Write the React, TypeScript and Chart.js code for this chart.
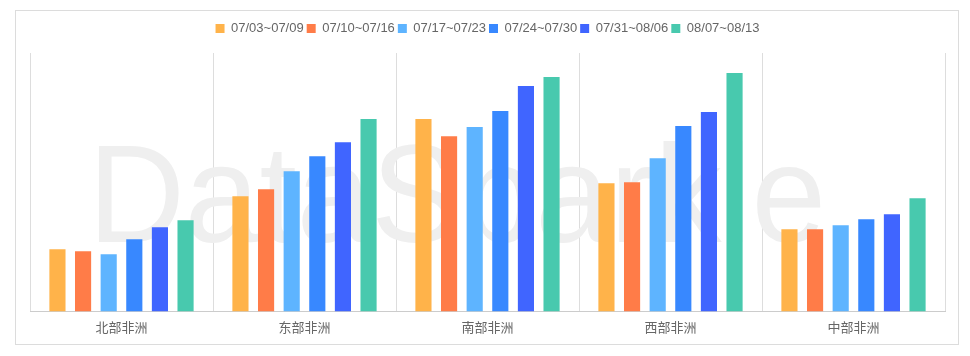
import React, { useEffect, useRef } from "react";
import { Chart, registerables } from "chart.js";

Chart.register(...registerables);

const categories = ["北部非洲", "东部非洲", "南部非洲", "西部非洲", "中部非洲"];
const seriesNames = ["07/03~07/09", "07/10~07/16", "07/17~07/23", "07/24~07/30", "07/31~08/06", "08/07~08/13"];
const colors = ["#FFB34A", "#FF7C48", "#5EB4FF", "#3888FF", "#4065FF", "#48C9AE"];

const week1 = [62, 115, 192, 128, 82];
const week2 = [60, 122, 175, 129, 82];
const week3 = [57, 140, 184, 153, 86];
const week4 = [72, 155, 200, 185, 92];
const week5 = [84, 169, 225, 199, 97];
const week6 = [91, 192, 234, 238, 113];
const seriesValues = [week1, week2, week3, week4, week5, week6];
const yMax = 258;

const watermark = {
  id: "watermark",
  beforeDatasetsDraw(chart: any) {
    const ctx = chart.ctx;
    ctx.save();
    ctx.fillStyle = "#efefef";
    ctx.font = "140px 'Liberation Sans', Arial, sans-serif";
    ctx.textBaseline = "alphabetic";
    ctx.textAlign = "left";
    ctx.fillText("DataSparkle", 72, 231, 738);
    ctx.restore();
  },
};

const legendGap = {
  id: "legendGap",
  beforeInit(chart: any) {
    const legend = chart.legend;
    if (!legend) return;
    const fit = legend.fit;
    legend.fit = function () {
      fit.call(this);
      this.height += 8;
    };
  },
};

export default function App() {
  const ref = useRef<HTMLCanvasElement | null>(null);
  useEffect(() => {
    if (!ref.current) return;
    const chart = new Chart(ref.current, {
      type: "bar",
      data: {
        labels: categories,
        datasets: seriesNames.map((name, i) => ({
          label: name,
          data: seriesValues[i],
          backgroundColor: colors[i],
          borderWidth: 0,
          categoryPercentage: 0.84,
          barPercentage: 0.63,
        })),
      },
      options: {
        animation: false,
        responsive: false,
        layout: { padding: { left: 14, right: 13, top: 8, bottom: 1 } },
        plugins: {
          legend: {
            position: "top",
            labels: {
              boxWidth: 9,
              boxHeight: 9,
              padding: 3,
              color: "#666",
              font: { size: 13, family: "'Liberation Sans', Arial, sans-serif" },
            },
          },
          tooltip: { enabled: false },
        },
        scales: {
          x: {
            grid: { offset: true, color: "#dddddd", drawTicks: false },
            border: { color: "#cccccc" },
            ticks: { padding: 8, color: "#666", font: { size: 13, family: "'Noto Sans CJK SC', sans-serif" } },
          },
          y: { display: false, min: 0, max: yMax },
        },
      },
      plugins: [watermark, legendGap],
    });
    return () => chart.destroy();
  }, []);
  return (
    <div style={{ margin: "2px 0 0 7px", width: 942, height: 333, border: "1px solid #dcdcdc" }}>
      <canvas ref={ref} width={942} height={333} style={{ display: "block" }} />
    </div>
  );
}
